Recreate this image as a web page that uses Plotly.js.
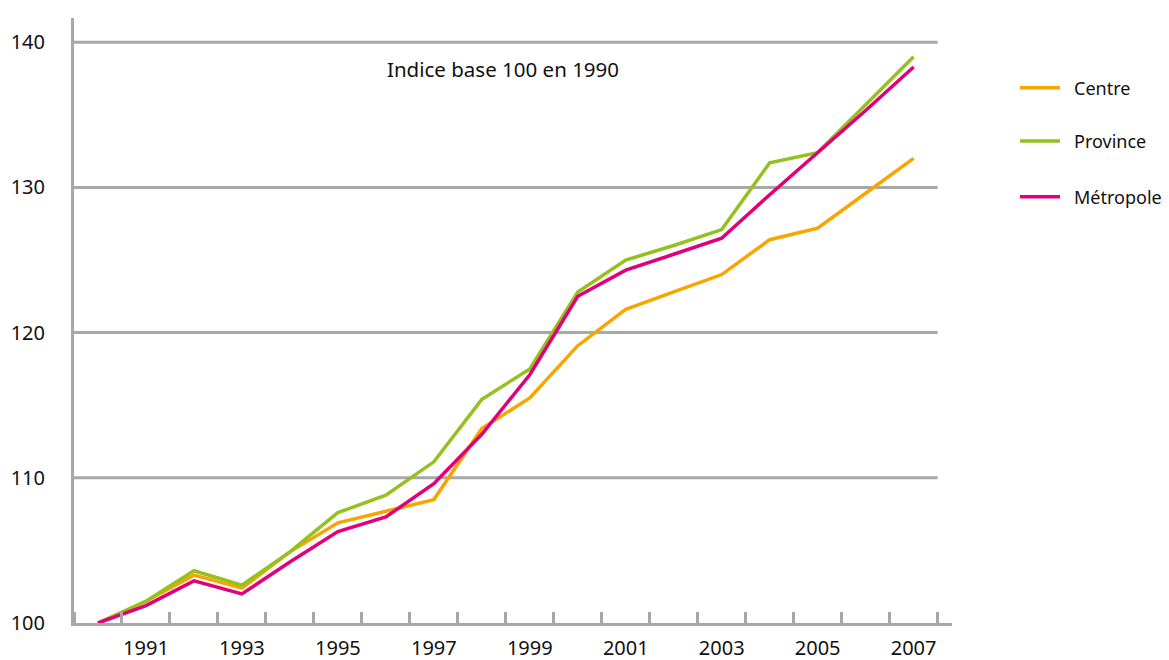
<!DOCTYPE html>
<html>
<head>
<meta charset="utf-8">
<script src="https://cdn.plot.ly/plotly-3.0.1.min.js"></script>
<style>html,body{margin:0;padding:0;background:#fff;}#chart{width:1169px;height:660px;}</style>
</head>
<body>
<div id="chart"></div>
<script>
const years = [1990,1991,1992,1993,1994,1995,1996,1997,1998,1999,2000,2001,2002,2003,2004,2005,2006,2007];
const centre =    [100,101.5,103.3,102.4,104.9,106.9,107.7,108.5,113.4,115.5,119.1,121.6,122.8,124.0,126.4,127.2,129.6,132.0];
const province =  [100,101.5,103.6,102.6,104.9,107.6,108.8,111.1,115.4,117.5,122.8,125.0,126.0,127.1,131.7,132.4,135.7,139.0];
const metropole = [100,101.2,102.9,102.0,104.2,106.3,107.3,109.6,113.0,117.1,122.5,124.3,125.4,126.5,129.5,132.4,135.3,138.3];
const seriesNames = ['Centre','Province','Métropole'];
const seriesColors = ['#F7A600','#95C11F','#E2007A'];
const xTickVals = [1991,1993,1995,1997,1999,2001,2003,2005,2007];
const xTickText = ['1991','1993','1995','1997','1999','2001','2003','2005','2007'];
const yTickVals = [100,110,120,130,140];
const annotationText = 'Indice base 100 en 1990';

const FONT = 'Noto Sans, DejaVu Sans, sans-serif';
const GRID = '#A8A8A8';
const data = [centre, province, metropole].map((vals, i) => ({
  type: 'scatter', mode: 'lines', x: years, y: vals,
  name: seriesNames[i], showlegend: false,
  line: {color: seriesColors[i], width: 3.5}
}));

const shapes = yTickVals.filter(v => v > 100).map(v => ({
  type: 'line', xref: 'x', yref: 'y', x0: 1989.5, x1: 2007.5, y0: v, y1: v,
  line: {color: GRID, width: 3}, layer: 'below'
}));

// Manual legend (paper coordinates, outside the plot area)
const legendY = [0.8848, 0.7967, 0.7046];
const legendAnn = [];
seriesNames.forEach((n, i) => {
  shapes.push({type: 'line', xref: 'paper', yref: 'paper', x0: 1.0774, x1: 1.123, y0: legendY[i], y1: legendY[i],
    line: {color: seriesColors[i], width: 3.5}});
  legendAnn.push({text: n, xref: 'paper', yref: 'paper', x: 1.1365, y: legendY[i], xanchor: 'left', yanchor: 'middle',
    showarrow: false, font: {family: FONT, size: 18, color: '#111'}});
});

const layout = {
  width: 1169, height: 660,
  margin: {l: 74, r: 217, t: 18, b: 37},
  paper_bgcolor: '#fff', plot_bgcolor: '#fff',
  font: {family: FONT, color: '#111', size: 20},
  showlegend: false,
  xaxis: {
    range: [1989.5, 2007.8], showgrid: false, zeroline: false,
    showline: true, linecolor: GRID, linewidth: 3,
    tickmode: 'array', tickvals: xTickVals, ticktext: xTickText,
    ticks: '', ticklabelstandoff: 5,
    tickfont: {family: FONT, size: 20, color: '#111'},
    minor: {tickmode: 'linear', tick0: 1990.5, dtick: 1, ticks: 'inside', ticklen: 11, tickwidth: 3, tickcolor: GRID, showgrid: false}
  },
  yaxis: {
    range: [100, 141.67], showgrid: false, zeroline: false,
    showline: true, linecolor: GRID, linewidth: 3,
    tickmode: 'array', tickvals: yTickVals, ticks: '',
    ticklabelstandoff: 22,
    tickfont: {family: FONT, size: 20, color: '#111'}
  },
  shapes: shapes,
  annotations: [{
    text: annotationText, xref: 'paper', yref: 'paper', x: 0.4886, y: 0.9157,
    xanchor: 'center', yanchor: 'middle', showarrow: false,
    font: {family: FONT, size: 20.5, color: '#111'}
  }].concat(legendAnn)
};

Plotly.newPlot('chart', data, layout, {displayModeBar: false, staticPlot: true});
</script>
</body>
</html>
